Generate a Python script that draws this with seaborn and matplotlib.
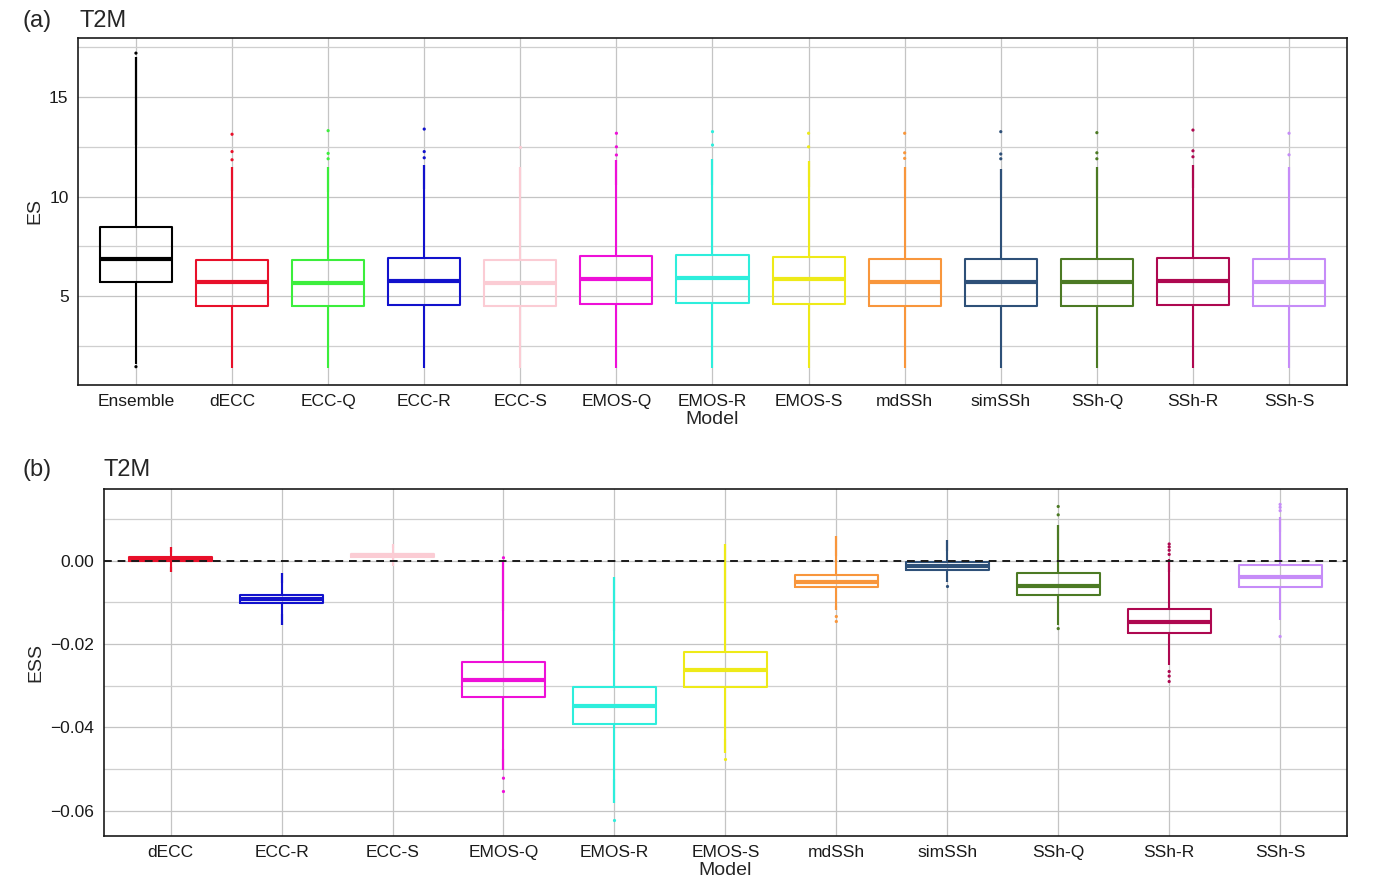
import pandas as pd
import matplotlib
matplotlib.use("Agg")
import matplotlib.pyplot as plt
import seaborn as sns
from matplotlib.ticker import MultipleLocator, FuncFormatter

# ---- panel (a): energy score per model ----
es_models = ["Ensemble", "dECC", "ECC-Q", "ECC-R", "ECC-S", "EMOS-Q", "EMOS-R",
             "EMOS-S", "mdSSh", "simSSh", "SSh-Q", "SSh-R", "SSh-S"]
es_wlo = [1.60, 1.42, 1.42, 1.42, 1.42, 1.42, 1.42, 1.42, 1.42, 1.42, 1.42, 1.42, 1.42]
es_q1 = [5.72, 4.51, 4.51, 4.55, 4.51, 4.61, 4.65, 4.61, 4.51, 4.51, 4.51, 4.56, 4.51]
es_med = [6.86, 5.70, 5.68, 5.77, 5.68, 5.88, 5.92, 5.85, 5.72, 5.70, 5.73, 5.78, 5.72]
es_q3 = [8.48, 6.84, 6.82, 6.91, 6.81, 7.02, 7.06, 6.99, 6.87, 6.86, 6.87, 6.94, 6.87]
es_whi = [12.6, 10.3, 10.25, 10.4, 10.2, 10.6, 10.6, 10.5, 10.35, 10.35, 10.35, 10.45, 10.35]
# dense runs of outliers beyond the whiskers (drawn as a line of dots)
es_dense_lo = es_wlo
es_dense_hi = [17.0, 11.5, 11.5, 11.6, 11.5, 11.85, 11.9, 11.8, 11.5, 11.4, 11.5, 11.6, 11.5]
es_fliers = [[17.2, 1.47], [11.85, 12.26, 13.13], [11.9, 12.17, 13.31], [11.95, 12.26, 13.39],
             [12.5], [12.09, 12.5, 13.18], [12.59, 13.26], [12.5, 13.18],
             [11.92, 12.2, 13.18], [11.9, 12.14, 13.26], [11.9, 12.2, 13.21],
             [12.0, 12.3, 13.34], [12.1, 13.18]]

# ---- panel (b): energy skill score per model ----
ess_models = ["dECC", "ECC-R", "ECC-S", "EMOS-Q", "EMOS-R", "EMOS-S", "mdSSh",
              "simSSh", "SSh-Q", "SSh-R", "SSh-S"]
ess_wlo = [-0.0014, -0.0129, -0.0005, -0.0451, -0.0524, -0.0427, -0.0109, -0.0049, -0.0155, -0.0250, -0.0143]
ess_q1 = [-0.0001, -0.0101, 0.0008, -0.0327, -0.0391, -0.0303, -0.0064, -0.0022, -0.0083, -0.0174, -0.0064]
ess_med = [0.0004, -0.0091, 0.0013, -0.0286, -0.0349, -0.0262, -0.0051, -0.0013, -0.0060, -0.0148, -0.0040]
ess_q3 = [0.0008, -0.0082, 0.0017, -0.0244, -0.0302, -0.0220, -0.0034, -0.0004, -0.0030, -0.0115, -0.0011]
ess_whi = [0.0021, -0.0054, 0.0030, -0.0120, -0.0169, -0.0096, 0.0011, 0.0023, 0.0049, -0.0027, 0.0069]
ess_dense_lo = [-0.0026, -0.0154, -0.0013, -0.0502, -0.0582, -0.0462, -0.0118, -0.0050, -0.0155, -0.0250, -0.0143]
ess_dense_hi = [0.0033, -0.0030, 0.0040, 0.0000, -0.0040, 0.0039, 0.0059, 0.0050, 0.0085, 0.0005, 0.0105]
ess_fliers = [[], [], [], [0.0007, -0.0522, -0.0554], [-0.0622], [-0.0477],
              [-0.0134, -0.0146], [-0.0061], [0.0110, 0.0130, -0.0163],
              [0.0015, 0.0025, 0.0033, 0.0040, -0.0266, -0.0277, -0.0290],
              [0.0120, 0.0128, 0.0135, -0.0182]]

colors = {
    "Ensemble": "#000000", "dECC": "#E8102A", "ECC-Q": "#3CEE3C", "ECC-R": "#1212CC",
    "ECC-S": "#FBCCD4", "EMOS-Q": "#EE10D8", "EMOS-R": "#2EEEDC", "EMOS-S": "#EEEA18",
    "mdSSh": "#F8963C", "simSSh": "#2E5078", "SSh-Q": "#4C7A24", "SSh-R": "#AE0850",
    "SSh-S": "#C68CF8",
}

sns.set_style("white")
plt.rcParams["font.family"] = ["Liberation Sans", "DejaVu Sans"]


def draw_panel(ax, models, wlo, q1, med, q3, whi, dlo, dhi, fliers, ylabel):
    # rebuild a small sample per model whose quartiles/extremes are the read values
    rows = []
    for m, a, b, c, d, e in zip(models, wlo, q1, med, q3, whi):
        for v in [a, b, b, c, d, d, e]:
            rows.append({"Model": m, "val": v})
    df = pd.DataFrame(rows)
    sns.boxplot(data=df, x="Model", y="val", hue="Model", order=models,
                palette=colors, fill=False, width=0.75, linewidth=1.5,
                whis=(0, 100), showcaps=False, legend=False, ax=ax,
                medianprops={"linewidth": 3})
    for i, m in enumerate(models):
        ax.vlines(i, whi[i], dhi[i], color=colors[m], lw=1.6)
        ax.vlines(i, dlo[i], wlo[i], color=colors[m], lw=1.6)
    out = pd.DataFrame([{"Model": m, "val": v} for m, fl in zip(models, fliers) for v in fl])
    if len(out):
        sns.stripplot(data=out, x="Model", y="val", hue="Model", order=models,
                      palette=colors, jitter=False, size=2.3, linewidth=0,
                      legend=False, ax=ax)
    ax.set_xlim(-0.6, len(models) - 0.4)
    ax.set_axisbelow(True)
    ax.grid(True, which="major", color="#C4C4C4", lw=0.9)
    ax.grid(True, which="minor", axis="y", color="#CFCFCF", lw=0.9)
    ax.tick_params(which="major", length=4, width=1, color="#333333",
                   labelsize=12.5, labelcolor="#1A1A1A", pad=3)
    ax.tick_params(which="minor", length=0)
    for s in ax.spines.values():
        s.set_visible(True)
        s.set_color("#1A1A1A")
        s.set_linewidth(1.2)
    ax.set_xlabel("Model", fontsize=14, labelpad=1)
    ax.set_ylabel(ylabel, fontsize=14, labelpad=4)


fig = plt.figure(figsize=(13.76, 8.77), dpi=100)
ax1 = fig.add_axes([0.0569, 0.5613, 0.9218, 0.3954])
ax2 = fig.add_axes([0.0756, 0.0471, 0.9031, 0.3957])

draw_panel(ax1, es_models, es_wlo, es_q1, es_med, es_q3, es_whi,
           es_dense_lo, es_dense_hi, es_fliers, "ES")
ax1.set_ylim(0.565, 17.96)
ax1.yaxis.set_major_locator(MultipleLocator(5))
ax1.yaxis.set_minor_locator(MultipleLocator(2.5))

draw_panel(ax2, ess_models, ess_wlo, ess_q1, ess_med, ess_q3, ess_whi,
           ess_dense_lo, ess_dense_hi, ess_fliers, "ESS")
ax2.axhline(0, color="#1A1A1A", lw=1.4, ls=(0, (4, 3)), zorder=5)
ax2.set_ylim(-0.066, 0.01728)
ax2.yaxis.set_major_locator(MultipleLocator(0.02))
ax2.yaxis.set_minor_locator(MultipleLocator(0.01))
ax2.yaxis.set_major_formatter(FuncFormatter(lambda v, p: f"{v:.2f}".replace("-", "\u2212")))

# panel tags and titles
fig.text(23 / 1376, 1 - 27 / 877, "(a)", fontsize=17, va="baseline", ha="left")
fig.text(79 / 1376, 1 - 27 / 877, "T2M", fontsize=17, va="baseline", ha="left")
fig.text(23 / 1376, 1 - 476 / 877, "(b)", fontsize=17, va="baseline", ha="left")
fig.text(104 / 1376, 1 - 476 / 877, "T2M", fontsize=17, va="baseline", ha="left")

fig.savefig("out.png", dpi=100)
